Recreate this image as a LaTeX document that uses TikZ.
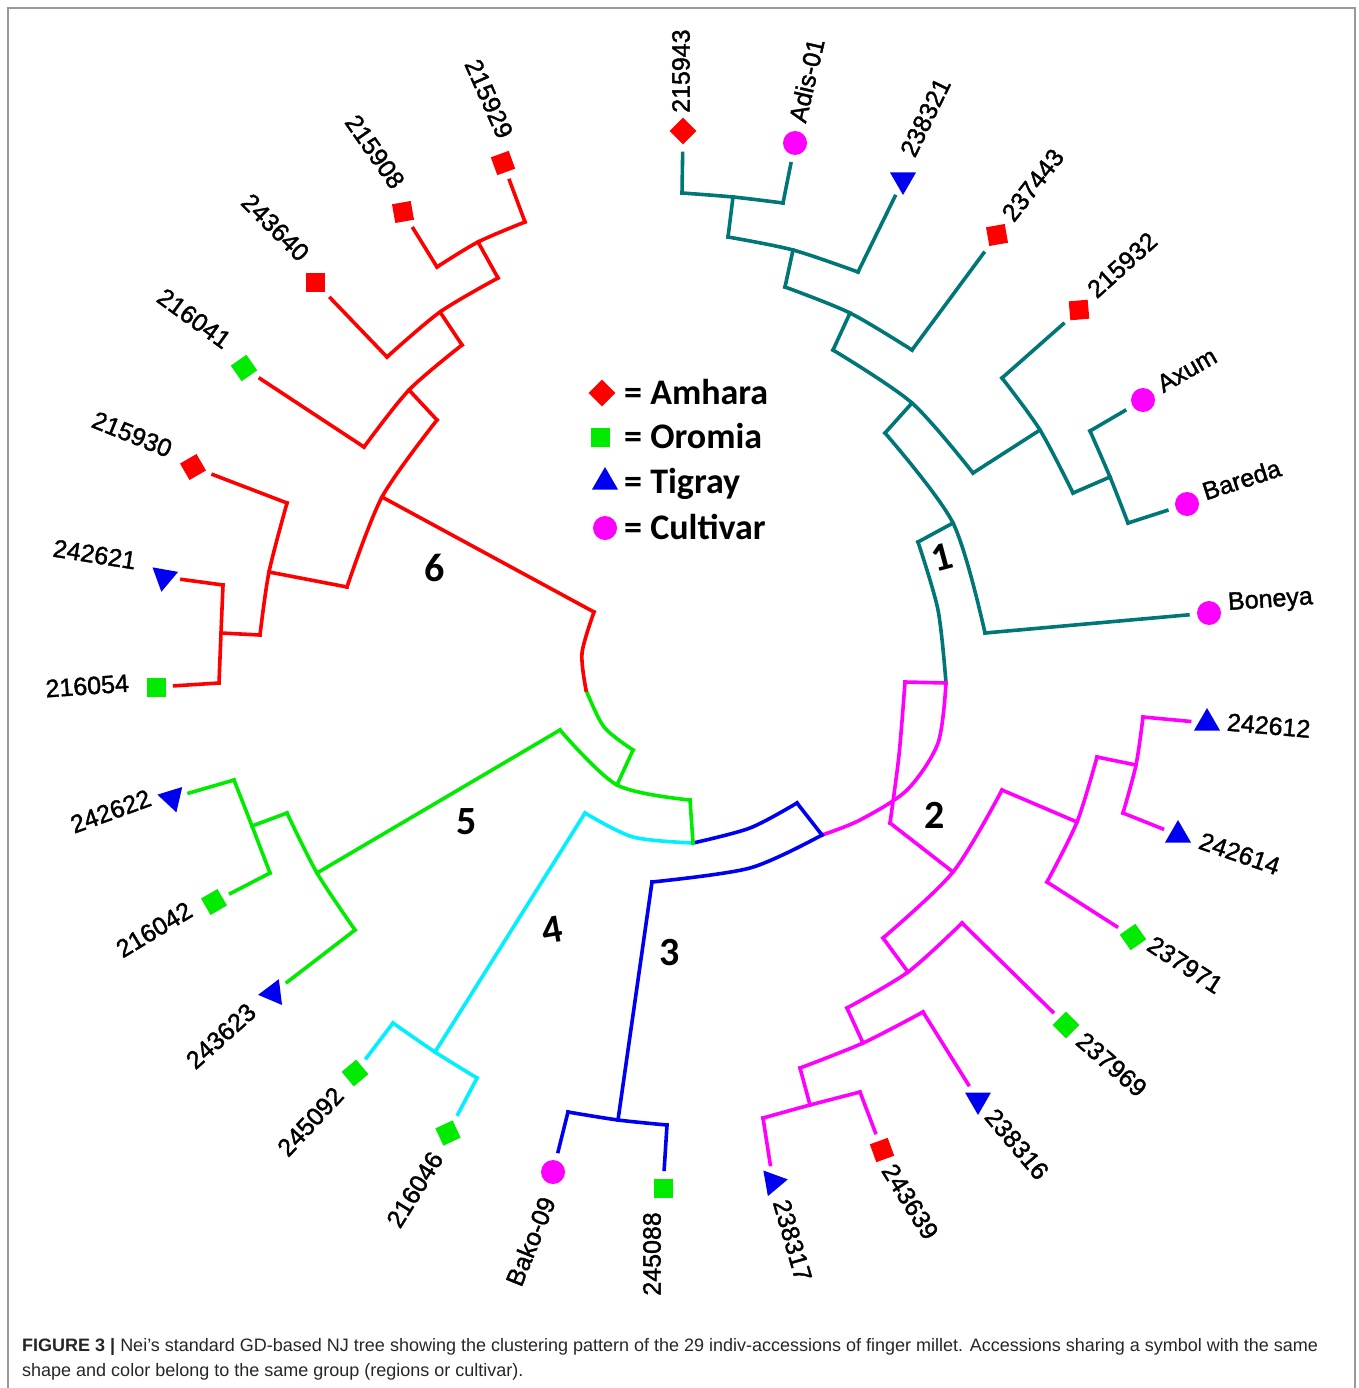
\documentclass[tikz,border=0pt]{standalone}
\usepackage{fontspec}
\setmainfont{Liberation Sans}
\newfontfamily\carlito{Carlito}
\newfontfamily\accfont[FakeBold=1.5]{Liberation Sans}
\usepackage{tikz}
\usetikzlibrary{shapes.geometric}
\definecolor{myteal}{RGB}{0,118,118}
\definecolor{mymag}{RGB}{255,0,255}
\definecolor{myblue}{RGB}{0,0,240}
\definecolor{mycyan}{RGB}{0,240,255}
\definecolor{mygreen}{RGB}{0,235,0}
\definecolor{myred}{RGB}{255,0,0}
\tikzset{
  branch/.style={line width=3.6pt, line cap=rect},
  twig/.style={branch, shorten >=9pt},
  leaf/.style={inner sep=0pt, minimum size=19pt},
  amhara/.style={leaf, rectangle, fill=myred},
  oromia/.style={leaf, rectangle, fill=mygreen},
  tigray/.style={regular polygon, regular polygon sides=3, inner sep=0pt, minimum size=30pt, fill=myblue},
  cultivar/.style={circle, inner sep=0pt, minimum size=24pt, fill=mymag},
  acc/.style={font=\accfont\fontsize{25}{25}\selectfont, inner sep=0pt},
  grp/.style={font=\carlito\bfseries\fontsize{40}{40}\selectfont, inner sep=0pt},
  key/.style={font=\carlito\bfseries\fontsize{36}{36}\selectfont, inner sep=0pt, anchor=base west},
  capt/.style={anchor=base west, inner sep=0pt, text=black!85, font=\fontsize{18}{20}\selectfont},
}

\begin{document}
\begin{tikzpicture}[x=1pt, y=-1pt]
\useasboundingbox (0,0) rectangle (1358,1388);
\draw[black!40, line width=1.3pt] (8,8) rectangle (1355,1400);

% leaf symbols
\node[amhara, rotate=45] (s215943) at (683,131) {};
\node[cultivar] (sadis) at (795,143) {};
\node[tigray, rotate=180] (s238321) at (903,180) {};
\node[amhara, rotate=10] (s237443) at (997,235) {};
\node[amhara, rotate=5] (s215932) at (1079,310) {};
\node[cultivar] (saxum) at (1143,400) {};
\node[cultivar] (sbareda) at (1187,504) {};
\node[cultivar] (sboneya) at (1209,613) {};
\node[tigray] (s242612) at (1207,723) {};
\node[tigray] (s242614) at (1178,835) {};
\node[oromia, rotate=35] (s237971) at (1133,937) {};
\node[oromia, rotate=45] (s237969) at (1066,1025) {};
\node[tigray, rotate=180] (s238316) at (978,1100) {};
\node[amhara, rotate=20] (s243639) at (882,1150) {};
\node[tigray, rotate=40] (s238317) at (773,1182) {};
\node[oromia] (s245088) at (663,1188) {};
\node[cultivar] (sbako) at (553,1172) {};
\node[oromia, rotate=25] (s216046) at (448,1133) {};
\node[oromia, rotate=40] (s245092) at (355,1073) {};
\node[tigray, rotate=-23] (s243623) at (273,993) {};
\node[oromia, rotate=30] (s216042) at (214,902) {};
\node[tigray, rotate=-43] (s242622) at (172,798) {};
\node[oromia] (s216054) at (156,687) {};
\node[tigray, rotate=-70] (s242621) at (164,577) {};
\node[amhara, rotate=30] (s215930) at (193,467) {};
\node[oromia, rotate=35] (s216041) at (244,368) {};
\node[amhara] (s243640) at (315,282) {};
\node[amhara, rotate=10] (s215908) at (403,212) {};
\node[amhara, rotate=20] (s215929) at (503,163) {};

% accession names
\node[acc, anchor=west, rotate=90] (l215943) at (681,113) {215943};
\node[acc, anchor=west, rotate=77] (ladis) at (797,122) {Adis-01};
\node[acc, anchor=west, rotate=64] (l238321) at (907,155) {238321};
\node[acc, anchor=west, rotate=52] (l237443) at (1007,218) {237443};
\node[acc, anchor=west, rotate=42] (l215932) at (1091,293) {215932};
\node[acc, anchor=west, rotate=30] (laxum) at (1159,386) {Axum};
\node[acc, anchor=west, rotate=18] (lbareda) at (1203,492) {Bareda};
\node[acc, anchor=west, rotate=4] (lboneya) at (1228,604) {Boneya};
\node[acc, anchor=west, rotate=-5] (l242612) at (1227,722) {242612};
\node[acc, anchor=west, rotate=-19] (l242614) at (1200,840) {242614};
\node[acc, anchor=west, rotate=-33] (l237971) at (1150,942) {237971};
\node[acc, anchor=west, rotate=-41] (l237969) at (1080,1037) {237969};
\node[acc, anchor=west, rotate=-50] (l238316) at (990,1112) {238316};
\node[acc, anchor=west, rotate=-58] (l243639) at (888,1166) {243639};
\node[acc, anchor=west, rotate=-74] (l238317) at (781,1200) {238317};
\node[acc, anchor=east, rotate=90] (l245088) at (652,1212) {245088};
\node[acc, anchor=east, rotate=68] (lbako) at (548,1198) {Bako-09};
\node[acc, anchor=east, rotate=58] (l216046) at (437,1154) {216046};
\node[acc, anchor=east, rotate=47] (l245092) at (339,1091) {245092};
\node[acc, anchor=east, rotate=42] (l243623) at (252,1008) {243623};
\node[acc, anchor=east, rotate=31] (l216042) at (190,908) {216042};
\node[acc, anchor=east, rotate=20] (l242622) at (150,797) {242622};
\node[acc, anchor=east, rotate=4] (l216054) at (129,683) {216054};
\node[acc, anchor=east, rotate=-9] (l242621) at (136,561) {242621};
\node[acc, anchor=east, rotate=-22] (l215930) at (171,450) {215930};
\node[acc, anchor=east, rotate=-36] (l216041) at (228,343) {216041};
\node[acc, anchor=east, rotate=-45] (l243640) at (305,257) {243640};
\node[acc, anchor=east, rotate=-55] (l215908) at (399,186) {215908};
\node[acc, anchor=east, rotate=-66] (l215929) at (506,137) {215929};

% cluster 1
\draw[branch, myteal] plot[smooth] coordinates {(682,193) (733,197) (783,203)};
\draw[twig, myteal] (682,193) -- (s215943);
\draw[twig, myteal] (783,203) -- (sadis);
\draw[branch, myteal] (733,197) -- (728,237);
\draw[branch, myteal] plot[smooth] coordinates {(728,237) (793,250) (858,272)};
\draw[twig, myteal] (858,272) -- (s238321);
\draw[branch, myteal] (793,250) -- (785,287);
\draw[branch, myteal] plot[smooth] coordinates {(785,287) (850,313) (912,350)};
\draw[twig, myteal] (912,350) -- (s237443);
\draw[branch, myteal] (850,313) -- (833,350);
\draw[branch, myteal] plot[smooth] coordinates {(833,350) (912,403) (973,473)};
\draw[branch, myteal] (973,473) -- (1040,430);
\draw[branch, myteal] plot[smooth] coordinates {(1002,378) (1040,430) (1073,493)};
\draw[twig, myteal] (1002,378) -- (s215932);
\draw[branch, myteal] (1073,493) -- (1110,477);
\draw[branch, myteal] plot[smooth] coordinates {(1090,431) (1110,477) (1128,523)};
\draw[twig, myteal] (1090,431) -- (saxum);
\draw[twig, myteal] (1128,523) -- (sbareda);
\draw[branch, myteal] (912,403) -- (885,433);
\draw[branch, myteal] plot[smooth] coordinates {(885,433) (953,523) (985,633)};
\draw[twig, myteal] (985,633) -- (sboneya);
\draw[branch, myteal] (953,523) -- (918,542);
\draw[branch, myteal] plot[smooth] coordinates {(918,542) (938,610) (946,683)};

% cluster 2
\draw[branch, mymag] plot[smooth] coordinates {(946,683) (938,743) (907,790) (860,820) (822,835)};
\draw[branch, mymag] (946,683) -- (905,682);
\draw[branch, mymag] plot[smooth] coordinates {(905,682) (899,755) (890,823)};
\draw[branch, mymag] (890,823) -- (953,872);
\draw[branch, mymag] plot[smooth] coordinates {(1002,790) (953,872) (883,938)};
\draw[branch, mymag] (1002,790) -- (1077,822);
\draw[branch, mymag] plot[smooth] coordinates {(1097,757) (1077,822) (1047,882)};
\draw[branch, mymag] (1097,757) -- (1136,765);
\draw[branch, mymag] plot[smooth] coordinates {(1143,717) (1136,765) (1123,813)};
\draw[twig, mymag] (1143,717) -- (s242612);
\draw[twig, mymag] (1123,813) -- (s242614);
\draw[twig, mymag] (1047,882) -- (s237971);
\draw[branch, mymag] (883,938) -- (908,972);
\draw[branch, mymag] plot[smooth] coordinates {(962,923) (908,972) (847,1008)};
\draw[twig, mymag] (962,923) -- (s237969);
\draw[branch, mymag] (847,1008) -- (863,1043);
\draw[branch, mymag] plot[smooth] coordinates {(923,1012) (863,1043) (800,1068)};
\draw[twig, mymag] (923,1012) -- (s238316);
\draw[branch, mymag] (800,1068) -- (810,1105);
\draw[branch, mymag] plot[smooth] coordinates {(860,1092) (810,1105) (763,1118)};
\draw[twig, mymag] (860,1092) -- (s243639);
\draw[twig, mymag] (763,1118) -- (s238317);

% cluster 3
\draw[branch, myblue] (822,835) -- (797,803);
\draw[branch, myblue] plot[smooth] coordinates {(797,803) (750,828) (693,843)};
\draw[branch, myblue] plot[smooth] coordinates {(822,835) (750,868) (652,882)};
\draw[branch, myblue] (652,882) -- (618,1120);
\draw[branch, myblue] plot[smooth] coordinates {(568,1112) (618,1120) (667,1125)};
\draw[twig, myblue] (568,1112) -- (sbako);
\draw[twig, myblue] (667,1125) -- (s245088);

% cluster 4
\draw[branch, mycyan] plot[smooth] coordinates {(585,813) (633,837) (693,843)};
\draw[branch, mycyan] (585,813) -- (435,1052);
\draw[branch, mycyan] plot[smooth] coordinates {(393,1023) (435,1052) (477,1078)};
\draw[twig, mycyan] (393,1023) -- (s245092);
\draw[twig, mycyan] (477,1078) -- (s216046);

% cluster 5
\draw[branch, mygreen] plot[smooth] coordinates {(586,690) (604,727) (633,750)};
\draw[branch, mygreen] (633,750) -- (617,785);
\draw[branch, mygreen] plot[smooth] coordinates {(560,730) (617,785) (690,800)};
\draw[branch, mygreen] (690,800) -- (693,843);
\draw[branch, mygreen] (560,730) -- (317,873);
\draw[branch, mygreen] plot[smooth] coordinates {(287,813) (317,873) (355,930)};
\draw[branch, mygreen] (287,813) -- (252,826);
\draw[branch, mygreen] plot[smooth] coordinates {(234,780) (252,826) (270,873)};
\draw[twig, mygreen] (234,780) -- (s242622);
\draw[twig, mygreen] (270,873) -- (s216042);
\draw[twig, mygreen] (355,930) -- (s243623);

% cluster 6
\draw[branch, myred] plot[smooth] coordinates {(594,612) (582,653) (586,690)};
\draw[branch, myred] (594,612) -- (382,497);
\draw[branch, myred] plot[smooth] coordinates {(437,420) (382,497) (347,587)};
\draw[branch, myred] (437,420) -- (409,390);
\draw[branch, myred] plot[smooth] coordinates {(462,345) (409,390) (364,447)};
\draw[twig, myred] (364,447) -- (s216041);
\draw[branch, myred] (462,345) -- (440,312);
\draw[branch, myred] plot[smooth] coordinates {(498,278) (440,312) (387,357)};
\draw[twig, myred] (387,357) -- (s243640);
\draw[branch, myred] (498,278) -- (478,242);
\draw[branch, myred] plot[smooth] coordinates {(525,222) (478,242) (437,267)};
\draw[twig, myred] (525,222) -- (s215929);
\draw[twig, myred] (437,267) -- (s215908);
\draw[branch, myred] (347,587) -- (269,572);
\draw[branch, myred] plot[smooth] coordinates {(287,503) (269,572) (260,635)};
\draw[twig, myred] (287,503) -- (s215930);
\draw[branch, myred] (260,635) -- (221,633);
\draw[branch, myred] plot[smooth] coordinates {(223,585) (221,633) (219,683)};
\draw[twig, myred] (223,585) -- (s242621);
\draw[twig, myred] (219,683) -- (s216054);

% cluster numbers
\node[grp, rotate=15] (g1) at (942,557) {1};
\node[grp] (g2) at (935,815) {2};
\node[grp] (g3) at (670,953) {3};
\node[grp, rotate=10] (g4) at (552,930) {4};
\node[grp] (g5) at (467,822) {5};
\node[grp] (g6) at (435,568) {6};

% legend
\node[amhara, rotate=45] (k1) at (602,393) {};
\node[oromia] (k2) at (600,437) {};
\node[tigray] (k3) at (605,482) {};
\node[cultivar] (k4) at (605,528) {};
\node[key] (t1) at (624,404) {= Amhara};
\node[key] (t2) at (624,448) {= Oromia};
\node[key] (t3) at (624,493) {= Tigray};
\node[key] (t4) at (624,539) {= Cultivar};

% caption
\node[capt] (cap1) at (22,1351)
  {\textbf{FIGURE 3 \textbar} Nei’s standard GD-based NJ tree showing the clustering pattern of the 29 indiv-accessions of finger millet. Accessions sharing a symbol with the same};
\node[capt] (cap2) at (22,1376)
  {shape and color belong to the same group (regions or cultivar).};
\end{tikzpicture}
\end{document}
